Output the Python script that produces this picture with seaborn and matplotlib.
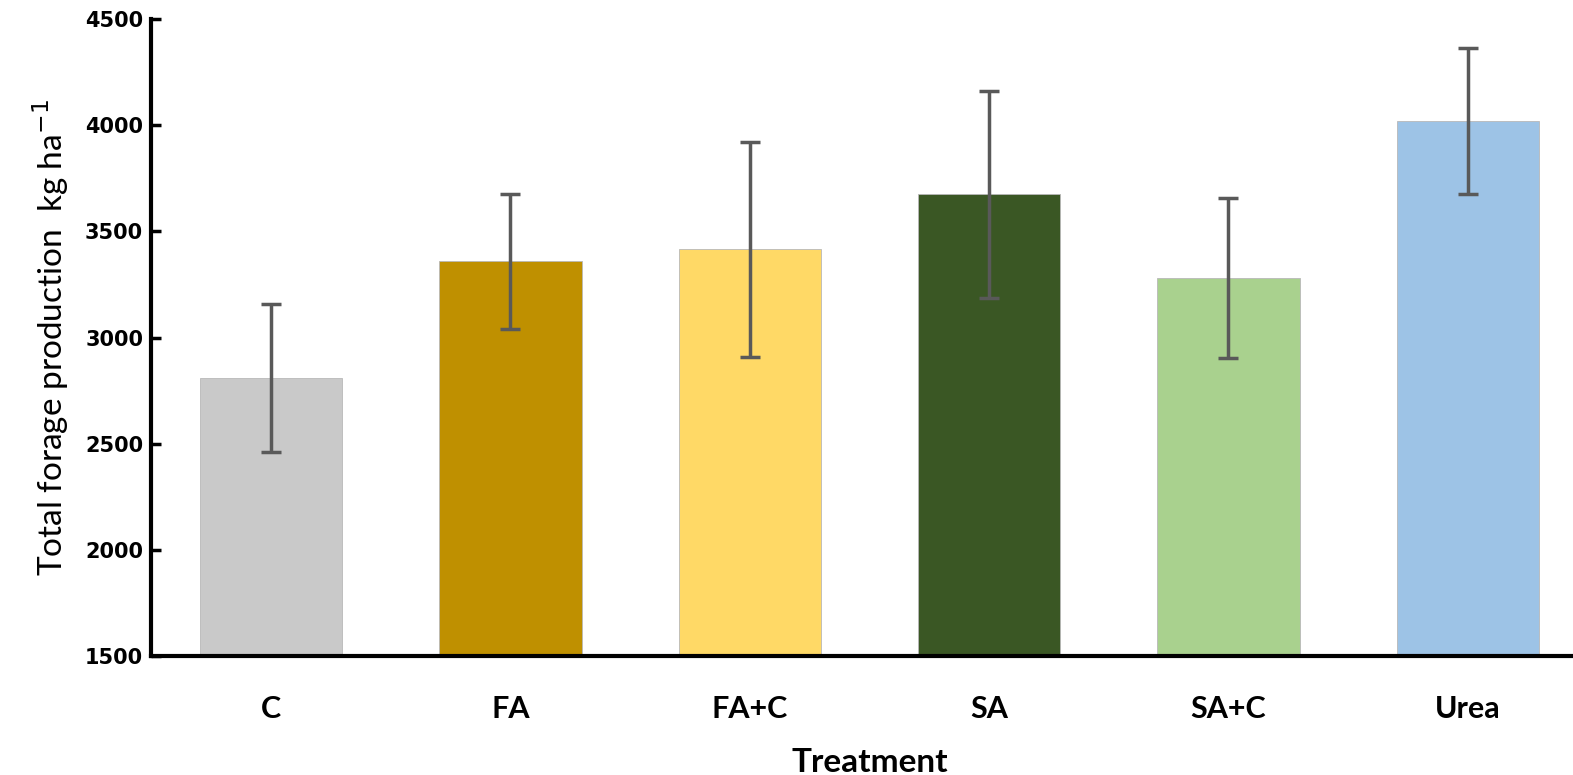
import numpy as np
import pandas as pd
import seaborn as sns
import matplotlib.pyplot as plt

treatments = ['C', 'FA', 'FA+C', 'SA', 'SA+C', 'Urea']
production = [2810, 3360, 3416, 3675, 3280, 4019]
err = [348, 318, 506, 487, 375, 345]
colors = ['#C9C9C9', '#BF9000', '#FFD966', '#3A5724', '#A9D18E', '#9DC3E6']

df = pd.DataFrame({'Treatment': treatments, 'production': production})

sns.set_style('white')
plt.rcParams['font.family'] = ['Lato', 'DejaVu Sans']
plt.rcParams['text.color'] = 'black'
plt.rcParams['axes.labelcolor'] = 'black'
plt.rcParams['xtick.color'] = 'black'
plt.rcParams['ytick.color'] = 'black'

fig = plt.figure(figsize=(15.73, 7.75), dpi=100)
ax = fig.add_axes([0.0963, 0.1535, 0.9129, 0.8219])

sns.barplot(data=df, x='Treatment', y='production', hue='Treatment',
            palette=colors, saturation=1, width=0.594, legend=False, ax=ax,
            edgecolor='#b8b8b8', linewidth=0.6)
ax.errorbar(np.arange(len(treatments)), production, yerr=err, fmt='none',
            ecolor='#595959', elinewidth=2.5, capsize=7, capthick=2.5)

ax.set_xlim(-0.5, 5.5)
ax.set_ylim(1500, 4500)
ax.set_yticks(np.arange(1500, 4501, 500))
ax.set_yticklabels([str(v) for v in range(1500, 4501, 500)],
                   fontfamily='DejaVu Sans', fontweight='bold', fontsize=15)
ax.tick_params(axis='y', left=True, direction='in', length=7, width=2.5, pad=6)
ax.tick_params(axis='x', bottom=False, length=0, pad=28, labelsize=22)
for lbl in ax.get_xticklabels():
    lbl.set_fontweight('bold')

for s in ['top', 'right']:
    ax.spines[s].set_visible(False)
for s in ['left', 'bottom']:
    ax.spines[s].set_linewidth(3)
    ax.spines[s].set_color('black')

ax.set_xlabel('Treatment', fontsize=24, fontweight='bold', labelpad=18)
ax.set_ylabel('Total forage production  kg ha$^{-1}$', fontsize=24, labelpad=10)

fig.savefig('out.png', dpi=100)
